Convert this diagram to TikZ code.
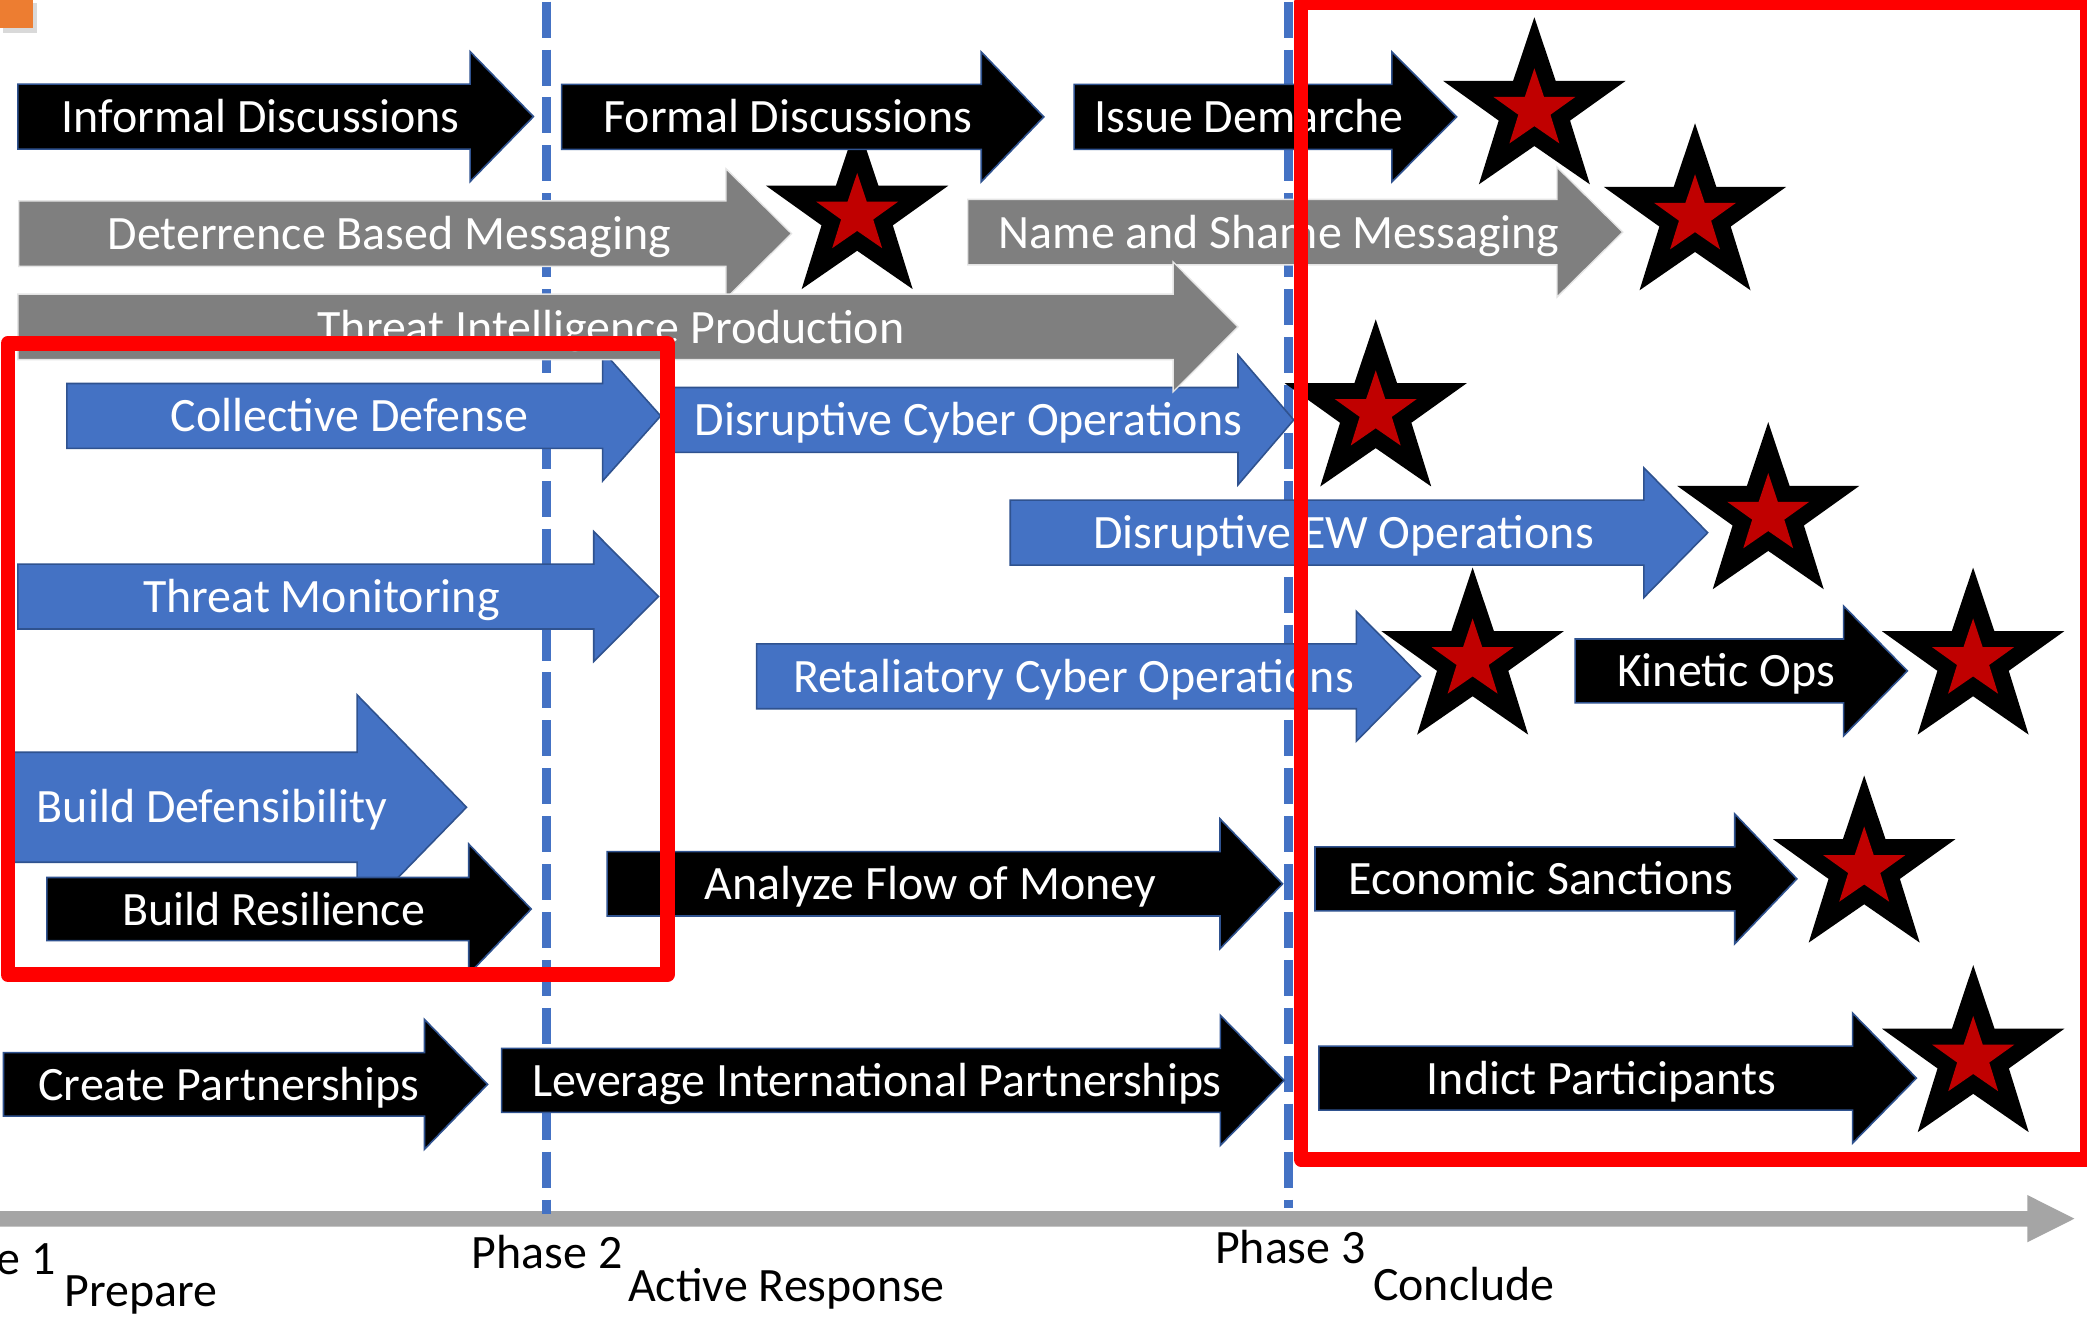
\documentclass[tikz,border=0pt]{standalone}
\usepackage{fontspec}
\setmainfont{Carlito}
\definecolor{ablue}{HTML}{4472C4}
\definecolor{aedge}{HTML}{2F528F}
\definecolor{agray}{HTML}{7F7F7F}
\definecolor{axgray}{HTML}{A5A5A5}
\definecolor{sred}{HTML}{C00000}
\definecolor{orng}{HTML}{ED7D31}
\tikzset{
  bluearrow/.style={fill=ablue, draw=aedge, line width=1.2pt},
  grayarrow/.style={fill=agray, draw=gray!20, line width=1pt},
  blackarrow/.style={fill=black, draw=aedge, line width=1.2pt},
  lbl/.style={text=white, inner sep=0pt, font=\fontsize{36}{43}\selectfont, anchor=base},
  axlbl/.style={text=black, inner sep=0pt, font=\fontsize{36}{43}\selectfont},
  phaseline/.style={draw=ablue, line width=7pt, dash pattern=on 27pt off 9pt},
  redframe/.style={draw=red, line width=11pt, line join=round},
}
% #1 style, #2 left, #3 head start, #4 tip, #5 centre y, #6 body half, #7 head half
\newcommand{\blockarrow}[7]{\path[#1] (#2,#5-#6) -- (#3,#5-#6) -- (#3,#5-#7) -- (#4,#5) -- (#3,#5+#7) -- (#3,#5+#6) -- (#2,#5+#6) -- cycle;}
% #1 name, #2 top x, #3 top y
\newcommand{\redstar}[3]{%
  \begin{scope}[shift={(#2,#3)}]
    \fill[black] (0,0) -- (16,47.8) -- (68.5,47.8) -- (26.8,77.6) -- (41.7,125.5) -- (0,96.7) -- (-41.7,125.5) -- (-26.8,77.6) -- (-68.5,47.8) -- (-16,47.8) -- cycle;
    \fill[sred, shift={(0,69.6)}, scale=0.45] (0,-69.6) -- (16,-21.8) -- (68.5,-21.8) -- (26.8,8) -- (41.7,55.9) -- (0,27.1) -- (-41.7,55.9) -- (-26.8,8) -- (-68.5,-21.8) -- (-16,-21.8) -- cycle;
    \coordinate (#1) at (0,69.6);
  \end{scope}}
\begin{document}
\begin{tikzpicture}[x=1pt,y=-1pt]
\useasboundingbox (0,0) rectangle (1568,990);
\fill[white] (0,0) rectangle (1568,990);
% orange corner element
\fill[gray!30] (2,2) rectangle (27.5,24.5);
\fill[orng] (0,0) rectangle (24.5,21.3);
% time axis
\fill[axgray] (0,909.9) -- (1523.1,909.9) -- (1523.1,897.8) -- (1558.5,915.6) -- (1523.1,933.4) -- (1523.1,921.6) -- (0,921.6) -- cycle;
\coordinate (axisend) at (1558.5,915.6);
% phase lines (behind the arrows)
\draw[phaseline] (410.5,1.25) -- (410.5,912.4);
\draw[phaseline] (968.2,1.25) -- (968.2,907.9);
\coordinate (p2top) at (410.5,1.25);
\coordinate (p3top) at (968.2,1.25);
% blue arrows
\blockarrow{bluearrow}{50.3}{452.8}{496.4}{312.5}{24.4}{48.8}
\node[lbl] (collective) at (262.5,324.5) {Collective Defense};
\blockarrow{bluearrow}{505}{930.1}{972}{315.5}{24.4}{48.8}
\node[lbl] (dcyber) at (727.5,327.5) {Disruptive Cyber Operations};
\blockarrow{bluearrow}{759}{1235}{1283}{400.2}{24.4}{48.8}
\node[lbl] (dew) at (1009.5,412.2) {Disruptive EW Operations};
\blockarrow{bluearrow}{13.4}{446.1}{494.7}{448.2}{24.4}{48.8}
\node[lbl] (tmon) at (241.5,460.2) {Threat Monitoring};
\blockarrow{bluearrow}{568.5}{1019}{1067.2}{508.1}{24.4}{48.8}
\node[lbl] (retal) at (806.5,520.1) {Retaliatory Cyber Operations};
\blockarrow{bluearrow}{3}{268.3}{350.5}{606.5}{41.3}{84.4}
\node[lbl, anchor=base west] (bdef) at (27.5,618) {Build Defensibility};
% gray arrows
\blockarrow{grayarrow}{14.1}{545.4}{594.7}{175.5}{24.6}{48.8}
\node[lbl] (deter) at (292.5,187.5) {Deterrence Based Messaging};
\blockarrow{grayarrow}{727.1}{1169.8}{1219.2}{174.4}{24.6}{48.8}
\node[lbl] (nshame) at (961,186.4) {Name and Shame Messaging};
\blockarrow{grayarrow}{13.4}{881.4}{930.1}{245.6}{24.6}{48.8}
\node[lbl] (tintel) at (459,257.9) {Threat Intelligence Production};
% stars
\redstar{sA}{644}{91.7}
\redstar{sB}{1152.8}{13}
\redstar{sC}{1273.5}{92.6}
\redstar{sD}{1033.6}{240}
\redstar{sE}{1328.5}{317.2}
\redstar{sF}{1106.4}{426.4}
\redstar{sG}{1482.4}{426.4}
\redstar{sH}{1400.6}{582.7}
\redstar{sI}{1482.5}{725.1}
% black arrows
\blockarrow{blackarrow}{13.4}{353.2}{400.8}{87.6}{24.4}{48.8}
\node[lbl] (informal) at (196,99.6) {Informal Discussions};
\blockarrow{blackarrow}{422}{737.2}{784.2}{87.8}{24.4}{48.8}
\node[lbl] (formal) at (592,99.8) {Formal Discussions};
\blockarrow{blackarrow}{807}{1045.7}{1094.4}{87.8}{24.4}{48.8}
\node[lbl] (demarche) at (938.5,99.8) {Issue Demarche};
\blockarrow{blackarrow}{1183.4}{1385.1}{1433}{504.1}{24}{48.8}
\node[lbl] (kinetic) at (1296.7,516.1) {Kinetic Ops};
\blockarrow{blackarrow}{988}{1303.3}{1350}{660.3}{24}{48.8}
\node[lbl] (econ) at (1157.7,672.3) {Economic Sanctions};
\blockarrow{blackarrow}{456.1}{916.6}{963.6}{664}{24.2}{48.8}
\node[lbl] (money) at (699,676) {Analyze Flow of Money};
\blockarrow{blackarrow}{35.2}{352.2}{399.1}{683}{23.7}{48.8}
\node[lbl] (bres) at (205.6,695) {Build Resilience};
\blockarrow{blackarrow}{2.6}{318.9}{366.3}{814.7}{23.8}{48.8}
\node[lbl] (create) at (172,826.7) {Create Partnerships};
\blockarrow{blackarrow}{376.9}{916.9}{964.8}{811.7}{24}{48.8}
\node[lbl] (leverage) at (658.8,823.7) {Leverage International Partnerships};
\blockarrow{blackarrow}{990.9}{1391.9}{1439.8}{810}{24}{48.8}
\node[lbl] (indict) at (1203.3,822) {Indict Participants};
% red frames
\draw[redframe] (5.9,257.9) rectangle (501.4,732.3);
\draw[redframe] (977.5,2) rectangle (1568,871);
% axis labels
\node[axlbl, anchor=base east] (ph1) at (42.2,957.9) {Phase 1};
\node[axlbl, anchor=base west] (prep) at (48.5,981.7) {Prepare};
\node[axlbl, anchor=base west] (ph2) at (354.2,952.9) {Phase 2};
\node[axlbl, anchor=base west] (act) at (471.8,978) {Active Response};
\node[axlbl, anchor=base west] (ph3) at (912.7,949.2) {Phase 3};
\node[axlbl, anchor=base west] (concl) at (1031.5,976.7) {Conclude};
\end{tikzpicture}
\end{document}
